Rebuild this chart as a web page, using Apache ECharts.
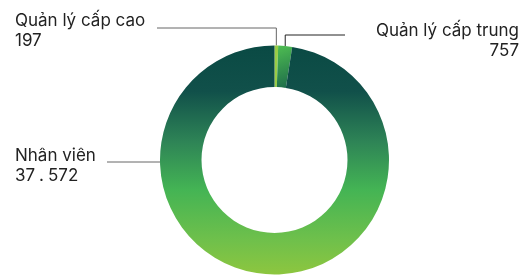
<!DOCTYPE html>
<html>
<head>
<meta charset="utf-8">
<script src="https://cdn.jsdelivr.net/npm/echarts@6/dist/echarts.min.js"></script>
<style>
  html, body { margin: 0; padding: 0; background: #fff; }
  #chart { width: 521px; height: 278px; }
</style>
</head>
<body>
<div id="chart"></div>
<script>
const categories = ["Quản lý cấp cao", "Quản lý cấp trung", "Nhân viên"];
const values = [197, 757, 37572];

// vị trí nhãn và đường dẫn
const center = [274.5, 160];
const radius = [73, 114.5];
const labelPos = [
  { x: 15, y: 11, align: "left" },
  { x: 519, y: 21, align: "right" },
  { x: 15, y: 146, align: "left" }
];

const total = values.reduce((a, b) => a + b, 0);

// dấu chấm ngăn cách hàng nghìn kiểu Việt Nam
const fmt = (v) => String(v).replace(/\B(?=(\d{3})+(?!\d))/g, ".");

const mainGradient = new echarts.graphic.LinearGradient(0, 0, 0, 1, [
  { offset: 0, color: "#0a4a44" },
  { offset: 0.2, color: "#11504a" },
  { offset: 0.42, color: "#2e8456" },
  { offset: 0.63, color: "#44b454" },
  { offset: 0.85, color: "#6fc04b" },
  { offset: 1, color: "#8dc63f" }
]);
const midGradient = new echarts.graphic.LinearGradient(0, 0, 1, 1, [
  { offset: 0, color: "#4fbe52" },
  { offset: 1, color: "#1c6a4a" }
]);
const colors = ["#9acd45", midGradient, mainGradient];
const lineColors = ["#666", "#222", "#666"];

const anchorAt = (i) => {
  let cum = 0;
  for (let k = 0; k < i; k++) cum += values[k];
  const a = ((cum + values[i] / 2) / total) * 2 * Math.PI;
  return [center[0] + radius[1] * Math.sin(a), center[1] - radius[1] * Math.cos(a)];
};

const chart = echarts.init(document.getElementById("chart"));
chart.setOption({
  animation: false,
  series: [
    {
      type: "pie",
      center: center,
      radius: radius,
      startAngle: 90,
      clockwise: true,
      avoidLabelOverlap: false,
      data: categories.map((name, i) => ({
        name: name,
        value: values[i],
        itemStyle: { color: colors[i] },
        labelLine: { lineStyle: { color: lineColors[i] } }
      })),
      label: {
        show: true,
        color: "#222",
        fontFamily: "Inter",
        formatter: (p) => {
          const parts = fmt(p.value).split(".");
          const num = parts.map((s) => "{val|" + s + "}").join("{dot|.}");
          return "{name|" + p.name + "}\n" + num;
        },
        rich: {
          name: { fontSize: 17, lineHeight: 20, fontFamily: "Inter", color: "#222" },
          val: { fontSize: 17, lineHeight: 20, fontFamily: "Inter", color: "#222" },
          dot: { fontSize: 17, lineHeight: 20, fontFamily: "Inter", color: "#222", padding: [0, 4] }
        }
      },
      labelLine: {
        show: true,
        lineStyle: { width: 1 }
      },
      labelLayout: (params) => {
        const i = params.dataIndex;
        const pos = labelPos[i];
        let pts;
        if (i === 0) {
          const a = anchorAt(0);
          pts = [a, [a[0], 28], [157, 28]];
        } else if (i === 1) {
          const a = anchorAt(1);
          pts = [a, [a[0], 35], [345, 35]];
        } else {
          const y = 162;
          const dx = Math.sqrt(radius[1] * radius[1] - (y - center[1]) * (y - center[1]));
          pts = [[center[0] - dx, y], [133, y], [107, y]];
        }
        return {
          x: pos.x,
          y: pos.y,
          align: pos.align,
          verticalAlign: "top",
          labelLinePoints: pts
        };
      }
    }
  ]
});
</script>
</body>
</html>
